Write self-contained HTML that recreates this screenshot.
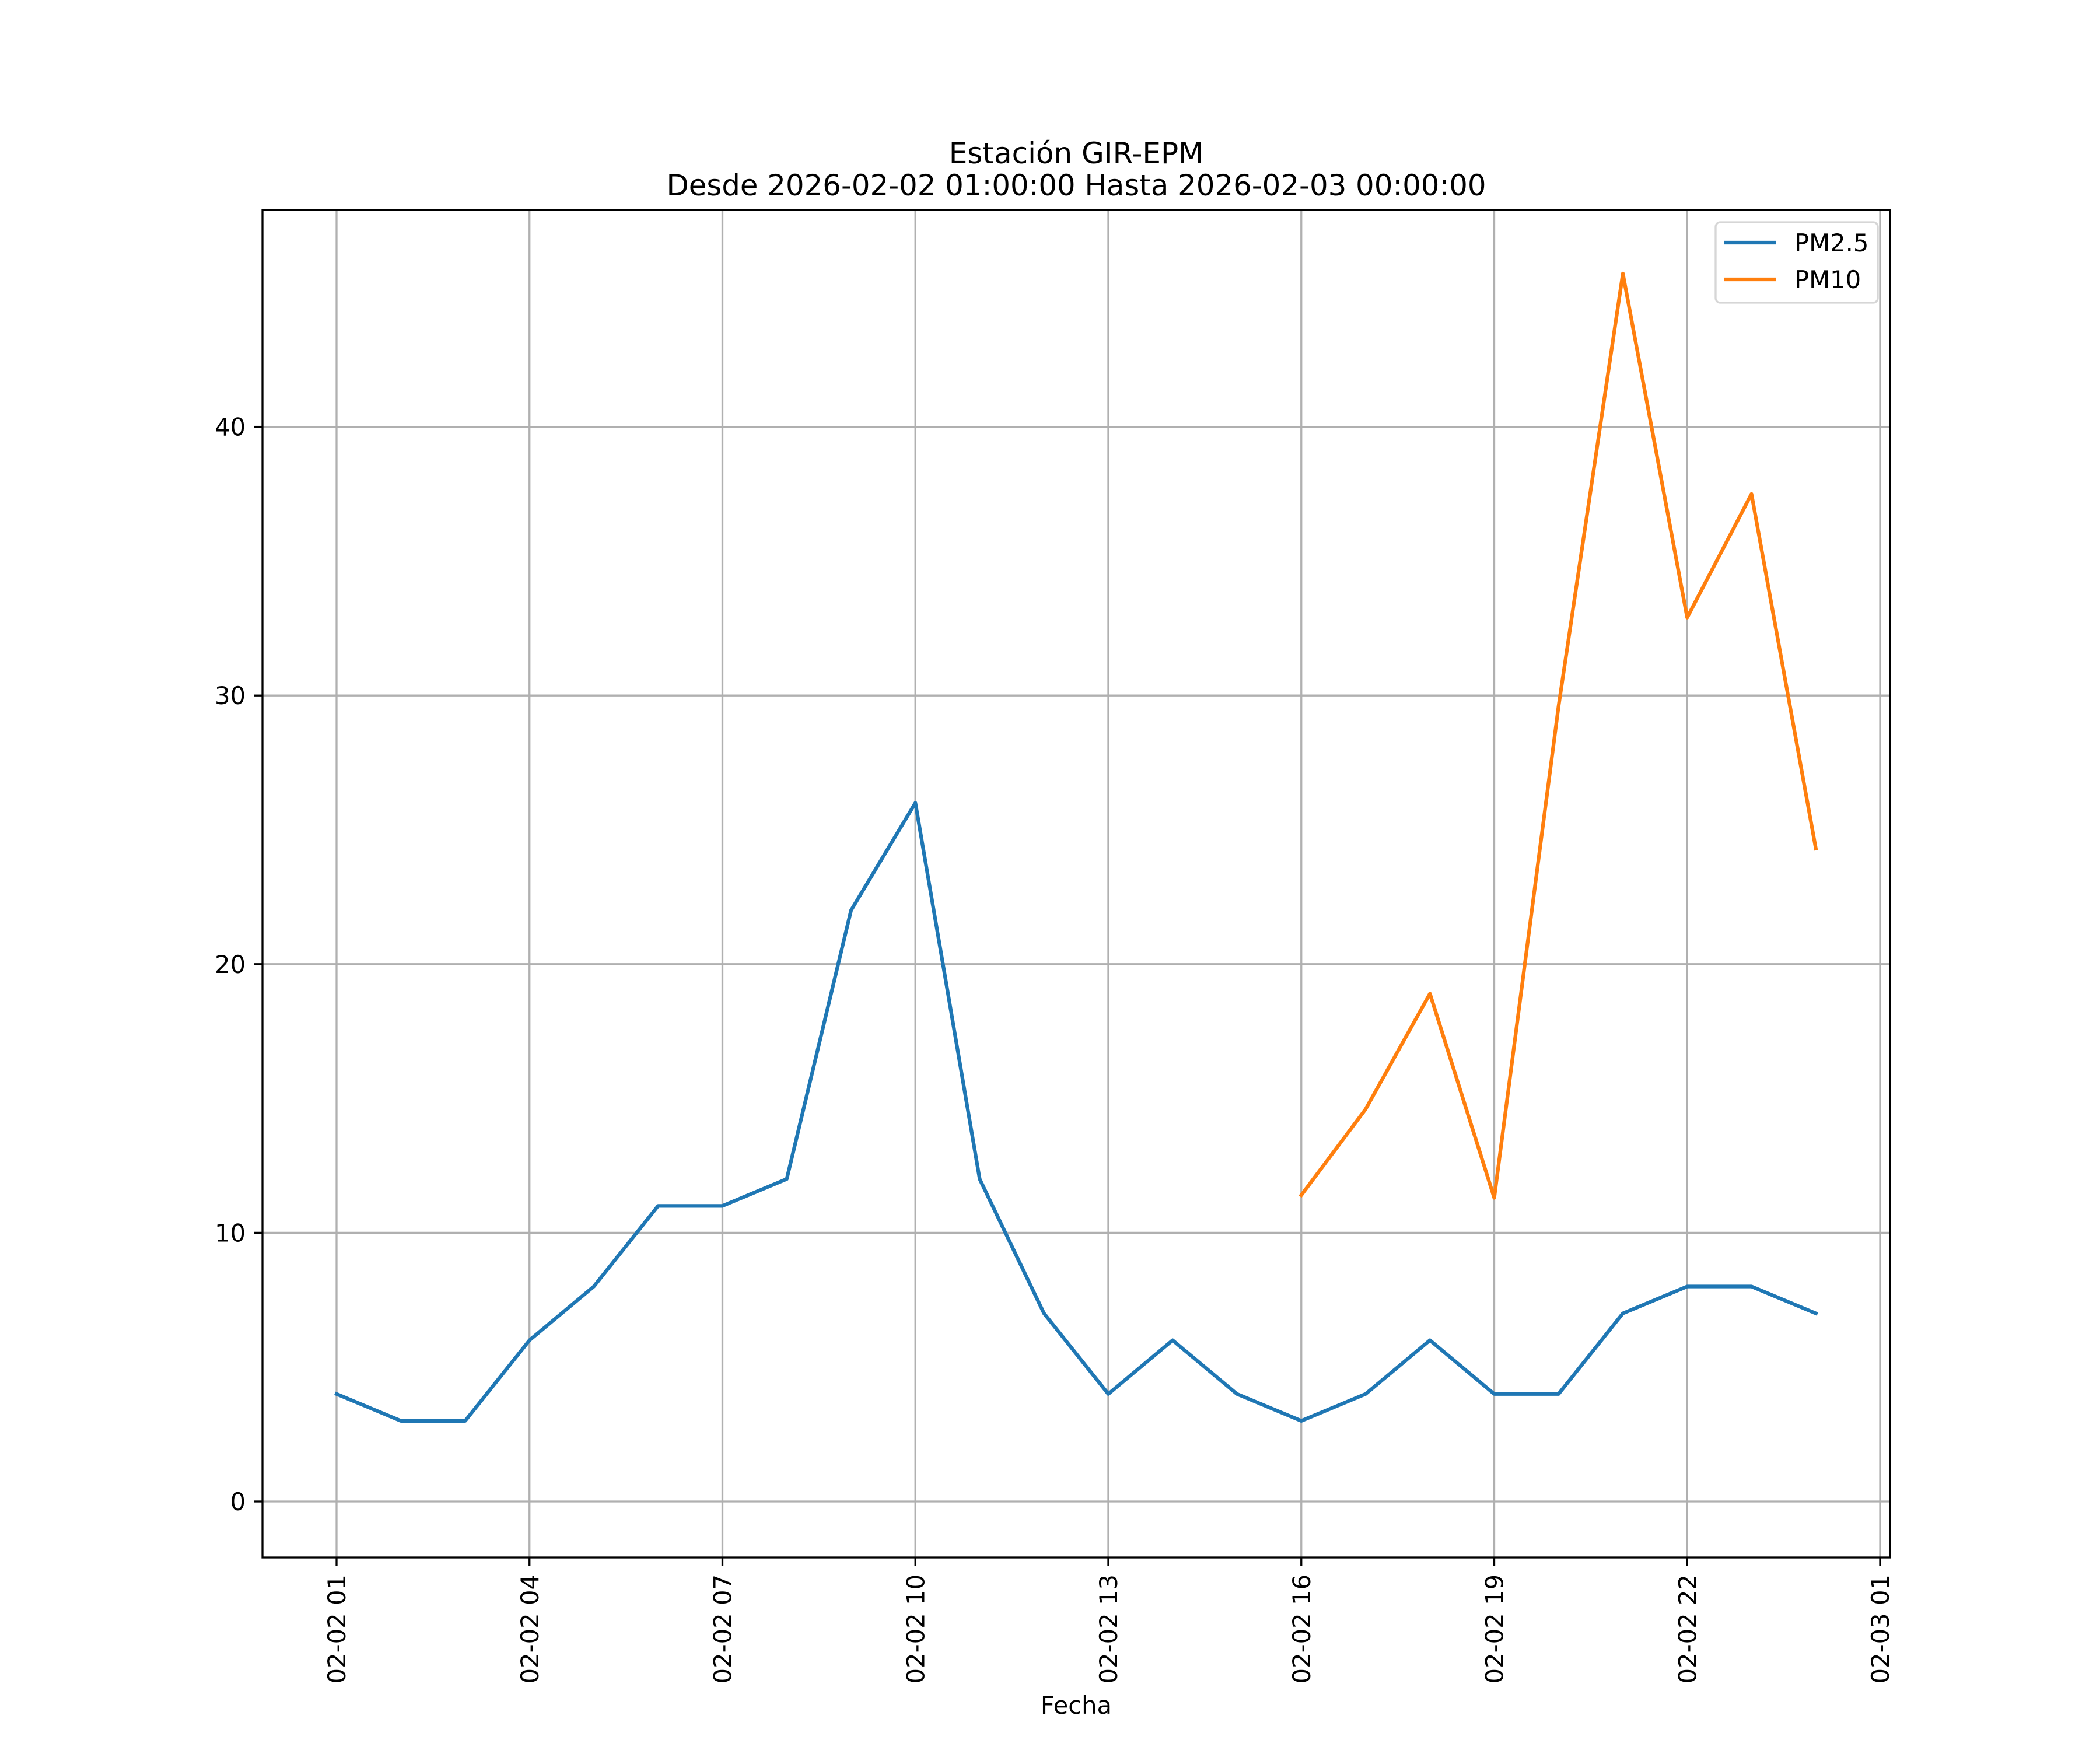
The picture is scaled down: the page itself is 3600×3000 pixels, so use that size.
<!DOCTYPE html>
<html><head><meta charset="utf-8"><style>
html,body{margin:0;padding:0;background:#fff;}
svg{display:block;font-family:"DejaVu Sans","Liberation Sans",sans-serif;}
</style></head><body>
<svg id="chart" width="3600" height="3000" viewBox="0 0 3600 3000" xmlns="http://www.w3.org/2000/svg">
<rect x="0" y="0" width="3600" height="3000" fill="#fff"/>
<g id="grid"></g>
<g id="series"></g>
<g id="axes"></g>
<text x="1845" y="280" font-size="50" text-anchor="middle">Estación GIR-EPM</text>
<text x="1845" y="335" font-size="50" text-anchor="middle" textLength="1405" lengthAdjust="spacingAndGlyphs">Desde 2026-02-02 01:00:00 Hasta 2026-02-03 00:00:00</text>
<text x="1845" y="2938" font-size="41.7" text-anchor="middle">Fecha</text>
<g>
<rect x="2941" y="381" width="278" height="138" rx="8" fill="#fff" fill-opacity="0.8" stroke="#d6d6d6" stroke-width="3.3"/>
<line x1="2956" y1="416" x2="3045" y2="416" stroke="#1f77b4" stroke-width="6.25"/>
<text x="3076" y="431" font-size="41.7">PM2.5</text>
<line x1="2956" y1="479" x2="3045" y2="479" stroke="#ff7f0e" stroke-width="6.25"/>
<text x="3076" y="494" font-size="41.7">PM10</text>
</g>
</svg>
<script>
const hours = [1,2,3,4,5,6,7,8,9,10,11,12,13,14,15,16,17,18,19,20,21,22,23,24];
const pm25 = [4,3,3,6,8,11,11,12,22,26,12,7,4,6,4,3,4,6,4,4,7,8,8,7];
const pm10Hours = [16,17,18,19,20,21,22,23,24];
const pm10 = [11.4,14.6,18.9,11.3,29.6,45.7,32.9,37.5,24.3];
const xTicks = [1,4,7,10,13,16,19,22,25];
const xTickLabels = ["02-02 01","02-02 04","02-02 07","02-02 10","02-02 13","02-02 16","02-02 19","02-02 22","02-03 01"];
const yTicks = [0,10,20,30,40];
const yTickLabels = ["0","10","20","30","40"];

const L=450,R=3240,T=360,B=2670;
const xs = h => 577 + (h-1)*110.25;
const ys = v => 2574 - v*46.06;
const NS="http://www.w3.org/2000/svg";
function mk(tag, attrs, parent){const e=document.createElementNS(NS,tag);for(const k in attrs)e.setAttribute(k,attrs[k]);parent.appendChild(e);return e;}
const grid=document.getElementById('grid'), axes=document.getElementById('axes'), ser=document.getElementById('series');

xTicks.forEach((h,i)=>{
  const x=xs(h);
  const g=mk('line',{x1:x,y1:T,x2:x,y2:B,stroke:'#b0b0b0','stroke-width':3.3},grid);
  
  
  const t=mk('line',{x1:x,y1:B,x2:x,y2:B+14.6,stroke:'#000','stroke-width':3.3},axes);
  
  
  const lb=mk('text',{x:x,y:B+29,'font-size':41.7,'text-anchor':'end',transform:`rotate(-90 ${x} ${B+29}) translate(0 15)`},axes);
  lb.textContent=xTickLabels[i];
  
  
});
yTicks.forEach((v,i)=>{
  const y=ys(v);
  const g=mk('line',{x1:L,y1:y,x2:R,y2:y,stroke:'#b0b0b0','stroke-width':3.3},grid);
  
  
  const t=mk('line',{x1:L-14.6,y1:y,x2:L,y2:y,stroke:'#000','stroke-width':3.3},axes);
  
  
  const lb=mk('text',{x:L-29,y:y+15,'font-size':41.7,'text-anchor':'end'},axes);
  lb.textContent=yTickLabels[i];
  
  
});
const l1=mk('polyline',{points:hours.map((h,i)=>xs(h)+','+ys(pm25[i])).join(' '),fill:'none',stroke:'#1f77b4','stroke-width':6.25,'stroke-linejoin':'round','stroke-linecap':'square'},ser);


const l2=mk('polyline',{points:pm10Hours.map((h,i)=>xs(h)+','+ys(pm10[i])).join(' '),fill:'none',stroke:'#ff7f0e','stroke-width':6.25,'stroke-linejoin':'round','stroke-linecap':'square'},ser);


const fr=mk('rect',{x:L,y:T,width:R-L,height:B-T,fill:'none',stroke:'#000','stroke-width':3.3},axes);


</script>
</body></html>
